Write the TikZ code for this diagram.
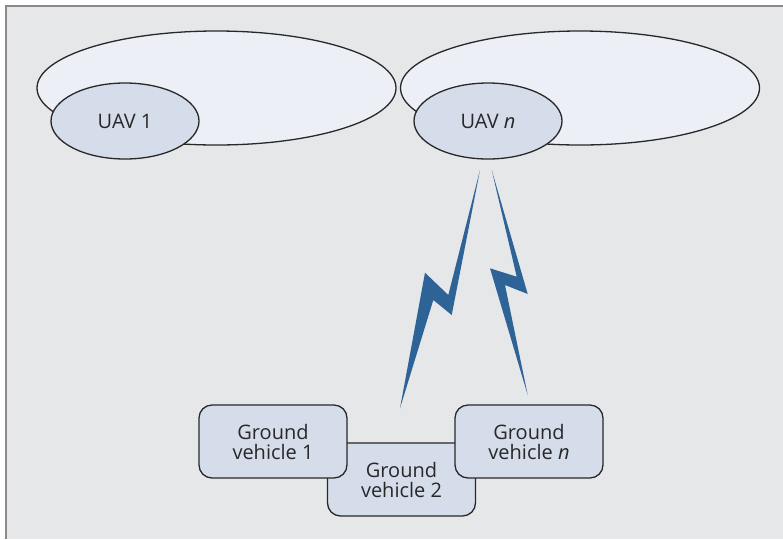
\documentclass[tikz,border=0pt]{standalone}
\usepackage{fontspec}
\setmainfont{Open Sans}
\usepackage{tikz}
\usetikzlibrary{shapes}
\definecolor{panelGray}{RGB}{230,231,232}
\definecolor{frameGray}{RGB}{138,137,140}
\definecolor{cloudFill}{RGB}{236,239,246}
\definecolor{nodeFill}{RGB}{213,220,234}
\definecolor{edgeDark}{RGB}{40,40,40}
\definecolor{boltBlue}{RGB}{46,99,152}

\begin{document}
\begin{tikzpicture}[x=1pt,y=-1pt]
\tikzset{
    cloud area/.style={
        ellipse, draw=edgeDark, fill=cloudFill, line width=1.3pt,
        minimum width=359pt, minimum height=114pt, inner sep=0pt
    },
    uav/.style={
        ellipse, draw=edgeDark, fill=nodeFill, line width=1.3pt,
        minimum width=148pt, minimum height=76pt, inner sep=0pt,
        font=\fontsize{20}{20}\selectfont, text=edgeDark
    },
    vehicle/.style={
        rectangle, rounded corners=13pt, draw=edgeDark, fill=nodeFill,
        line width=1.3pt, minimum width=148pt, minimum height=73pt,
        align=center, font=\fontsize{20}{20}\selectfont, text=edgeDark
    },
    bolt/.style={fill=boltBlue}
}
% Fond gri cu chenar sus si in stanga
\useasboundingbox (0,0) rectangle (783,539);
\fill[white] (0,0) rectangle (783,539);
\fill[panelGray] (6,6) rectangle (783,539);
\draw[frameGray, line width=2pt] (6,539) -- (6,6) -- (783,6);

% Zonele de acoperire
\node[cloud area] (cloudOne) at (216.5,88) {};
\node[cloud area] (cloudN)   at (580,88)   {};

% Dronele
\node[uav] (uavOne) at (125,121) {UAV 1};
\node[uav] (uavN)   at (488,121) {UAV \textit{n}};

% Fulgerele (legaturile radio)
\fill[bolt] (480,170) -- (451.7,315) -- (433.3,300) -- (400,408.3)
    -- (425,272.7) -- (448.3,295) -- cycle;
\fill[bolt] (491.7,170) -- (527.7,294) -- (505,285) -- (527.7,395)
    -- (490,268.3) -- (516.7,276.7) -- cycle;

% Vehiculele terestre
\node[vehicle] (gvTwo) at (401.5,479.5) {Ground\\vehicle 2};
\node[vehicle] (gvOne) at (273,441.5)   {Ground\\vehicle 1};
\node[vehicle] (gvN)   at (529,441.5)   {Ground\\vehicle \textit{n}};
\end{tikzpicture}
\end{document}
